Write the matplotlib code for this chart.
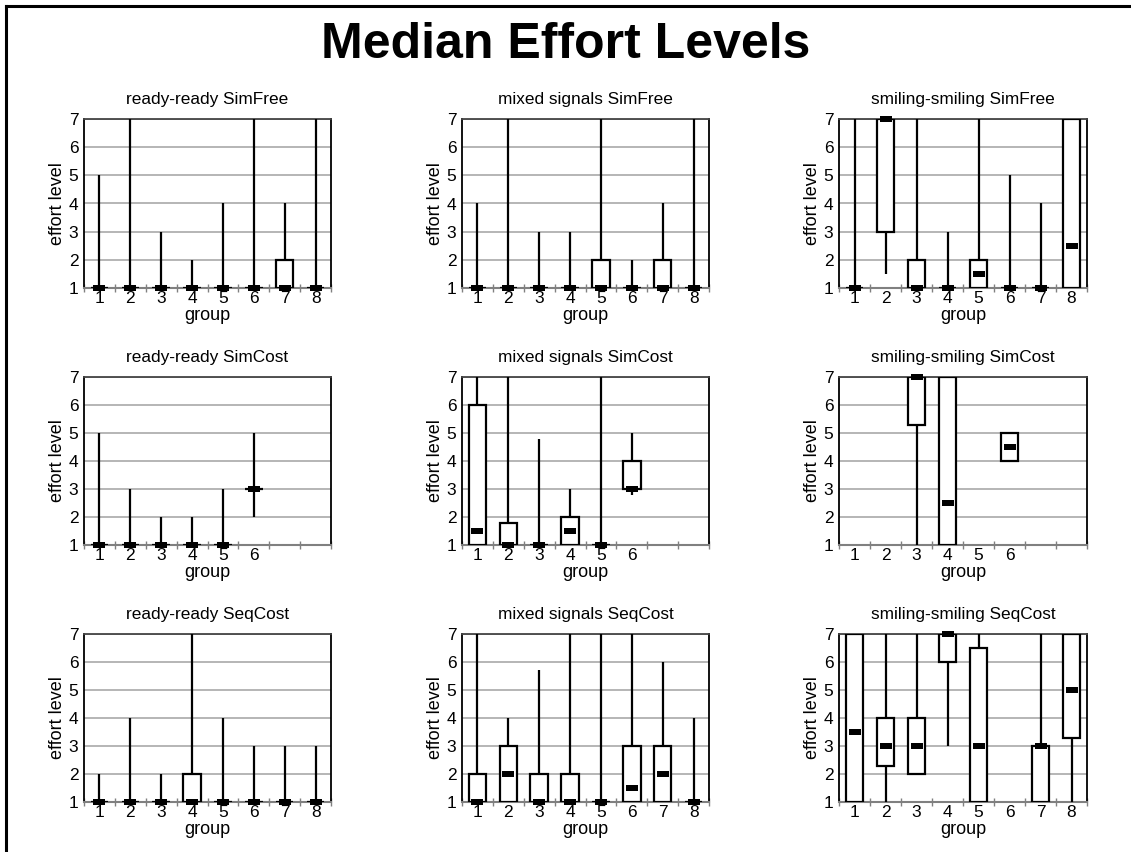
import numpy as np
import matplotlib
matplotlib.use("Agg")
import matplotlib.pyplot as plt
from matplotlib.lines import Line2D
from matplotlib.patches import Rectangle

plt.rcParams['font.family'] = ['Liberation Sans', 'DejaVu Sans']

nan = np.nan
groups8 = [1, 2, 3, 4, 5, 6, 7, 8]
groups6 = [1, 2, 3, 4, 5, 6]

# Each panel: min, q1, median, q3, max per group
rr_simfree_min = [1, 1, 1, 1, 1, 1, 1, 1]
rr_simfree_q1 = [1, 1, 1, 1, 1, 1, 1, 1]
rr_simfree_med = [1, 1, 1, 1, 1, 1, 1, 1]
rr_simfree_q3 = [1, 1, 1, 1, 1, 1, 2, 1]
rr_simfree_max = [5, 7, 3, 2, 4, 7, 4, 7]

ms_simfree_min = [1, 1, 1, 1, 1, 1, 1, 1]
ms_simfree_q1 = [1, 1, 1, 1, 1, 1, 1, 1]
ms_simfree_med = [1, 1, 1, 1, 1, 1, 1, 1]
ms_simfree_q3 = [1, 1, 1, 1, 2, 1, 2, 1]
ms_simfree_max = [4, 7, 3, 3, 7, 2, 4, 7]

ss_simfree_min = [1, 1.5, 1, 1, 1, 1, 1, 1]
ss_simfree_q1 = [1, 3, 1, 1, 1, 1, 1, 1]
ss_simfree_med = [1, 7, 1, 1, 1.5, 1, 1, 2.5]
ss_simfree_q3 = [1, 7, 2, 1, 2, 1, 1, 7]
ss_simfree_max = [7, 7, 7, 3, 7, 5, 4, 7]

rr_simcost_min = [1, 1, 1, 1, 1, 2]
rr_simcost_q1 = [1, 1, 1, 1, 1, 3]
rr_simcost_med = [1, 1, 1, 1, 1, 3]
rr_simcost_q3 = [1, 1, 1, 1, 1, 3]
rr_simcost_max = [5, 3, 2, 2, 3, 5]

ms_simcost_min = [1, 1, 1, 1, 1, 2.8]
ms_simcost_q1 = [1, 1, 1, 1, 1, 3]
ms_simcost_med = [1.5, 1, 1, 1.5, 1, 3]
ms_simcost_q3 = [6, 1.8, 1, 2, 1, 4]
ms_simcost_max = [7, 7, 4.8, 3, 7, 5]

ss_simcost_min = [nan, nan, 1, 1, nan, 4]
ss_simcost_q1 = [nan, nan, 5.3, 1, nan, 4]
ss_simcost_med = [nan, nan, 7, 2.5, nan, 4.5]
ss_simcost_q3 = [nan, nan, 7, 7, nan, 5]
ss_simcost_max = [nan, nan, 7, 7, nan, 5]

rr_seqcost_min = [1, 1, 1, 1, 1, 1, 1, 1]
rr_seqcost_q1 = [1, 1, 1, 1, 1, 1, 1, 1]
rr_seqcost_med = [1, 1, 1, 1, 1, 1, 1, 1]
rr_seqcost_q3 = [1, 1, 1, 2, 1, 1, 1, 1]
rr_seqcost_max = [2, 4, 2, 7, 4, 3, 3, 3]

ms_seqcost_min = [1, 1, 1, 1, 1, 1, 1, 1]
ms_seqcost_q1 = [1, 1, 1, 1, 1, 1, 1, 1]
ms_seqcost_med = [1, 2, 1, 1, 1, 1.5, 2, 1]
ms_seqcost_q3 = [2, 3, 2, 2, 1, 3, 3, 1]
ms_seqcost_max = [7, 4, 5.7, 7, 7, 7, 6, 4]

ss_seqcost_min = [1, 1, 2, 3, 1, nan, 1, 1]
ss_seqcost_q1 = [1, 2.3, 2, 6, 1, nan, 1, 3.3]
ss_seqcost_med = [3.5, 3, 3, 7, 3, nan, 3, 5]
ss_seqcost_q3 = [7, 4, 4, 7, 6.5, nan, 3, 7]
ss_seqcost_max = [7, 7, 7, 7, 7, nan, 7, 7]

titles = ["ready-ready SimFree", "mixed signals SimFree", "smiling-smiling SimFree",
          "ready-ready SimCost", "mixed signals SimCost", "smiling-smiling SimCost",
          "ready-ready SeqCost", "mixed signals SeqCost", "smiling-smiling SeqCost"]

panels = [
    (groups8, rr_simfree_min, rr_simfree_q1, rr_simfree_med, rr_simfree_q3, rr_simfree_max),
    (groups8, ms_simfree_min, ms_simfree_q1, ms_simfree_med, ms_simfree_q3, ms_simfree_max),
    (groups8, ss_simfree_min, ss_simfree_q1, ss_simfree_med, ss_simfree_q3, ss_simfree_max),
    (groups6, rr_simcost_min, rr_simcost_q1, rr_simcost_med, rr_simcost_q3, rr_simcost_max),
    (groups6, ms_simcost_min, ms_simcost_q1, ms_simcost_med, ms_simcost_q3, ms_simcost_max),
    (groups6, ss_simcost_min, ss_simcost_q1, ss_simcost_med, ss_simcost_q3, ss_simcost_max),
    (groups8, rr_seqcost_min, rr_seqcost_q1, rr_seqcost_med, rr_seqcost_q3, rr_seqcost_max),
    (groups8, ms_seqcost_min, ms_seqcost_q1, ms_seqcost_med, ms_seqcost_q3, ms_seqcost_max),
    (groups8, ss_seqcost_min, ss_seqcost_q1, ss_seqcost_med, ss_seqcost_q3, ss_seqcost_max),
]

W, H = 1131, 852
fig = plt.figure(figsize=(W / 100, H / 100), dpi=100)

col_x = [(84, 331), (462, 709), (839, 1087)]
row_y = [(119, 288), (377, 545), (634, 802)]

med_marker = [(-1, -0.5), (1, -0.5), (1, 0.5), (-1, 0.5), (-1, -0.5)]

for i, (title, panel) in enumerate(zip(titles, panels)):
    r, c = divmod(i, 3)
    x0, x1 = col_x[c]
    y0, y1 = row_y[r]
    ax = fig.add_axes([x0 / W, 1 - y1 / H, (x1 - x0) / W, (y1 - y0) / H])
    g, mn, q1, md, q3, mx = panel
    g = np.array(g, dtype=float)
    mn, q1, md, q3, mx = [np.array(a, dtype=float) for a in (mn, q1, md, q3, mx)]
    bw = 0.57
    for xi, a, b, m, d, e in zip(g, mn, q1, md, q3, mx):
        if np.isnan(m):
            continue
        ax.plot([xi, xi], [a, b], color='black', lw=1.6, solid_capstyle='butt', zorder=3)
        ax.plot([xi, xi], [d, e], color='black', lw=1.6, solid_capstyle='butt', zorder=3)
        if d > b:
            ax.add_patch(Rectangle((xi - bw / 2, b), bw, d - b, facecolor='white',
                                   edgecolor='black', lw=1.6, zorder=4))
        else:
            ax.plot([xi - bw / 2, xi + bw / 2], [b, b], color='black', lw=1.6,
                    solid_capstyle='butt', zorder=4)
    ax.plot(g, md, linestyle='none', marker=med_marker, color='black', markersize=9,
            markeredgewidth=0, zorder=6, clip_on=False)
    ax.set_xlim(0.5, 8.5)
    ax.set_ylim(1, 7)
    ax.set_yticks([1, 2, 3, 4, 5, 6, 7])
    ax.yaxis.grid(True, color='#b0b0b0', lw=1.3)
    ax.set_axisbelow(True)
    ax.set_xticks(np.arange(0.5, 9.0, 1.0))
    ax.set_xticklabels([])
    ax.set_xticks(g, [str(int(v)) for v in g], minor=True)
    ax.tick_params(axis='x', which='major', direction='inout', length=6, color='#808080', width=1)
    ax.tick_params(axis='x', which='minor', length=0, labelsize=12.5, pad=2)
    ax.tick_params(axis='y', length=0, labelsize=12.5, pad=4)
    for s in ('left', 'right', 'top'):
        ax.spines[s].set_color('black')
        ax.spines[s].set_linewidth(1.3)
    ax.spines['top'].set_color('#444444')
    ax.spines['bottom'].set_color('#808080')
    ax.spines['bottom'].set_linewidth(1.5)
    ax.set_title(title, fontsize=12.4, pad=11)
    ax.set_ylabel('effort level', fontsize=13, labelpad=2)
    ax.set_xlabel('group', fontsize=13, labelpad=1)

fig.text(0.5, 1 - 45 / H, 'Median Effort Levels', ha='center', va='center',
         fontsize=36, fontweight='bold')

fig.add_artist(Line2D([6 / W, 6 / W], [0, 1 - 6 / H], color='black', lw=2.2))
fig.add_artist(Line2D([6 / W, 1], [1 - 6 / H, 1 - 6 / H], color='black', lw=2.2))

fig.savefig('out.png', dpi=100)
